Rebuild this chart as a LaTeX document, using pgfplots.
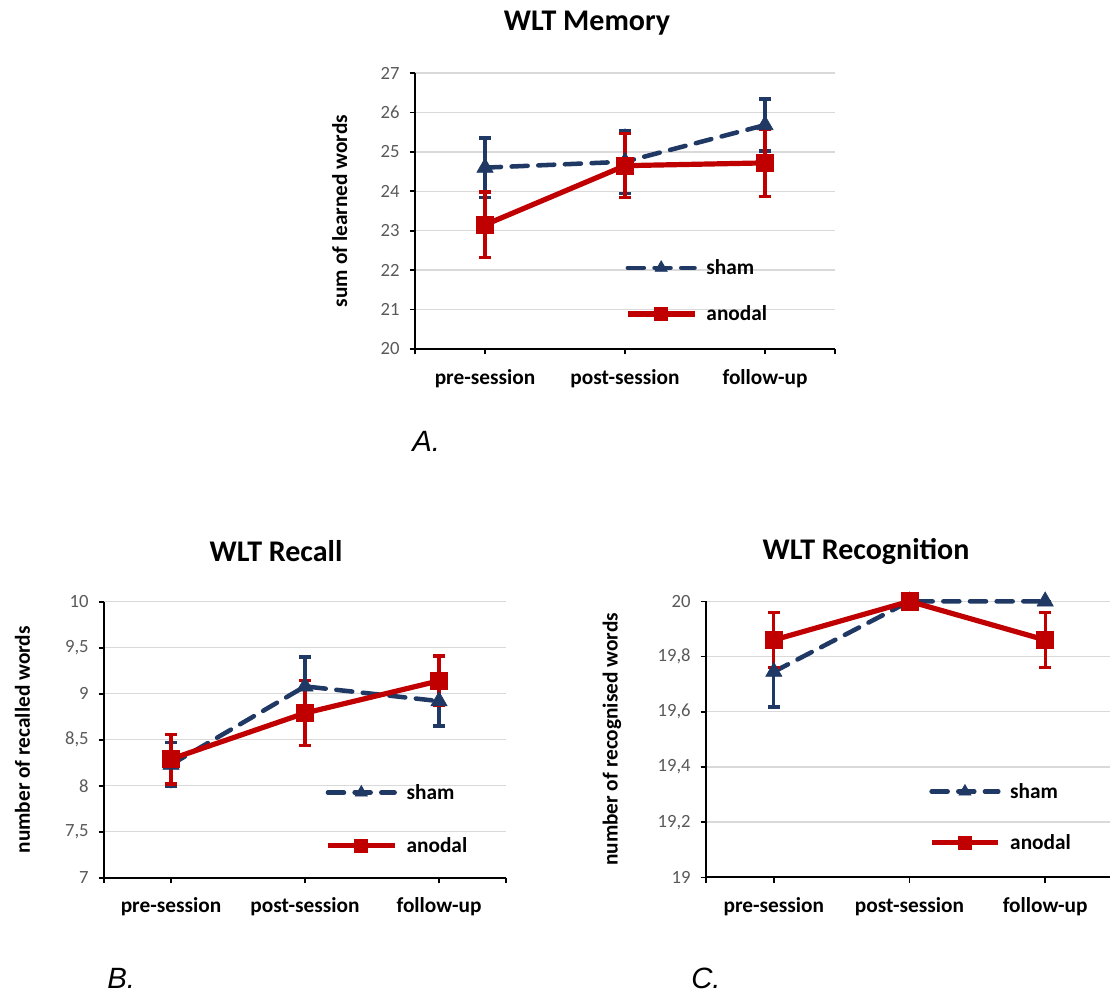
\documentclass[border=0pt]{standalone}
\usepackage{fontspec}
\setmainfont{Carlito}
\newfontfamily\arialfont{Liberation Sans}
\usepackage{pgfplots}
\pgfplotsset{compat=1.18}
\definecolor{shamc}{HTML}{203864}
\definecolor{anoc}{HTML}{C00000}
\definecolor{tickc}{HTML}{595959}
\definecolor{gridc}{HTML}{D9D9D9}

\pgfplotsset{
  wltbase/.style={
    scale only axis,
    clip=false,
    axis x line*=bottom,
    axis y line*=left,
    axis line style={-, black, line width=1.4pt},
    xmin=-0.5, xmax=2.5,
    xtick={0,1,2},
    xticklabels={pre-session, post-session, follow-up},
    extra x ticks={-0.5,2.5},
    extra x tick labels={},
    extra x tick style={grid=none},
    tick align=outside,
    major tick length=4pt,
    tick style={black, line width=1.2pt},
    ymajorgrids,
    grid style={gridc, line width=1.1pt},
    yticklabel style={text=tickc, font=\fontsize{14}{16}\selectfont, xshift=-4pt},
    xticklabel style={font=\bfseries\fontsize{16}{19}\selectfont, yshift=-7.5pt},
    ylabel style={font=\bfseries\fontsize{16}{19}\selectfont, anchor=center},
    /pgf/number format/use comma,
    /pgf/number format/1000 sep={},
    /pgf/number format/assume math mode=true,
    legend cell align=left,
    legend style={draw=none, fill=none, font=\bfseries\fontsize{16}{19}\selectfont, inner sep=0pt, column sep=5pt},
    legend image code/.code={\draw[mark repeat=2,mark phase=2, every mark/.append style={scale=0.75}] plot coordinates {(0pt,0pt)(25pt,0pt)(50pt,0pt)};},
  },
  shamstyle/.style={shamc, line width=3.4pt, dash pattern=on 12pt off 8pt, line cap=round,
    mark=triangle*, mark size=7pt, mark options={solid, fill=shamc, line width=0.5pt},
    error bars/y dir=both, error bars/y explicit,
    error bars/error bar style={solid, line width=2.4pt, shamc},
    error bars/error mark options={rotate=90, mark size=4.5pt, line width=2.4pt, shamc, solid}},
  anostyle/.style={anoc, line width=3.9pt, solid,
    mark=square*, mark size=6.5pt, mark options={solid, fill=anoc, line width=0.5pt},
    error bars/y dir=both, error bars/y explicit,
    error bars/error bar style={solid, line width=2.4pt, anoc},
    error bars/error mark options={rotate=90, mark size=4.5pt, line width=2.4pt, anoc, solid}},
}

\begin{document}
\begin{tikzpicture}
\useasboundingbox (0,0) rectangle (832.5pt,-746.25pt);

% ---------------- A ----------------
\begin{axis}[wltbase,
  at={(311.25pt,-261.75pt)}, anchor=south west,
  width=315pt, height=207pt,
  ymin=20, ymax=27, ytick={20,21,22,23,24,25,26,27},
  ylabel={sum of learned words},
  ylabel style={at={(axis description cs:-0.179,0.5)}},
  legend style={at={(axis cs:1.0,22.35)}, anchor=north west, row sep=18pt},
]
\addplot[shamstyle] coordinates {
  (0,24.60) +- (0,0.75)
  (1,24.75) +- (0,0.80)
  (2,25.68) +- (0,0.66)
};
\addlegendentry{sham}
\addplot[anostyle] coordinates {
  (0,23.15) +- (0,0.83)
  (1,24.65) +- (0,0.81)
  (2,24.72) +- (0,0.85)
};
\addlegendentry{anodal}
\end{axis}

% ---------------- B ----------------
\begin{axis}[wltbase,
  at={(78pt,-658.3pt)}, anchor=south west,
  width=301.5pt, height=207pt,
  ymin=7, ymax=10, ytick={7,7.5,8,8.5,9,9.5,10},
  ylabel={number of recalled words},
  ylabel style={at={(axis description cs:-0.203,0.5)}},
  legend style={at={(axis cs:1.15,8.05)}, anchor=north west, row sep=23pt},
]
\addplot[shamstyle] coordinates {
  (0,8.23) +- (0,0.24)
  (1,9.08) +- (0,0.32)
  (2,8.92) +- (0,0.27)
};
\addlegendentry{sham}
\addplot[anostyle] coordinates {
  (0,8.29) +- (0,0.27)
  (1,8.79) +- (0,0.355)
  (2,9.14) +- (0,0.27)
};
\addlegendentry{anodal}
\end{axis}

% ---------------- C ----------------
\begin{axis}[wltbase,
  at={(529.5pt,-658pt)}, anchor=south west,
  width=303pt, height=207pt,
  xmax=2.478,
  extra x ticks={-0.5},
  ymin=19, ymax=20, ytick={19,19.2,19.4,19.6,19.8,20},
  ylabel={number of recognised words},
  ylabel style={at={(axis description cs:-0.233,0.5)}},
  legend style={at={(axis cs:1.142,19.352)}, anchor=north west, row sep=21.5pt},
]
\addplot[shamstyle] coordinates {
  (0,19.745) +- (0,0.128)
  (1,20.0) +- (0,0)
  (2,20.0) +- (0,0)
};
\addlegendentry{sham}
\addplot[anostyle] coordinates {
  (0,19.86) +- (0,0.10)
  (1,20.0) +- (0,0)
  (2,19.86) +- (0,0.10)
};
\addlegendentry{anodal}
\end{axis}

% titles and panel letters
\node[font=\bfseries\fontsize{22.5}{27}\selectfont] at (440.25pt,-17pt) {WLT Memory};
\node[font=\bfseries\fontsize{22.5}{27}\selectfont] at (207pt,-413.5pt) {WLT Recall};
\node[font=\bfseries\fontsize{22.5}{27}\selectfont] at (649.5pt,-413.5pt) {WLT Recognition};
\node[font=\arialfont\itshape\fontsize{22}{26}\selectfont, anchor=base west, inner sep=0pt] at (309pt,-338.25pt) {A.};
\node[font=\arialfont\itshape\fontsize{22}{26}\selectfont, anchor=base west, inner sep=0pt] at (80.25pt,-741.5pt) {B.};
\node[font=\arialfont\itshape\fontsize{22}{26}\selectfont, anchor=base west, inner sep=0pt] at (518.25pt,-741.5pt) {C.};
\end{tikzpicture}
\end{document}
